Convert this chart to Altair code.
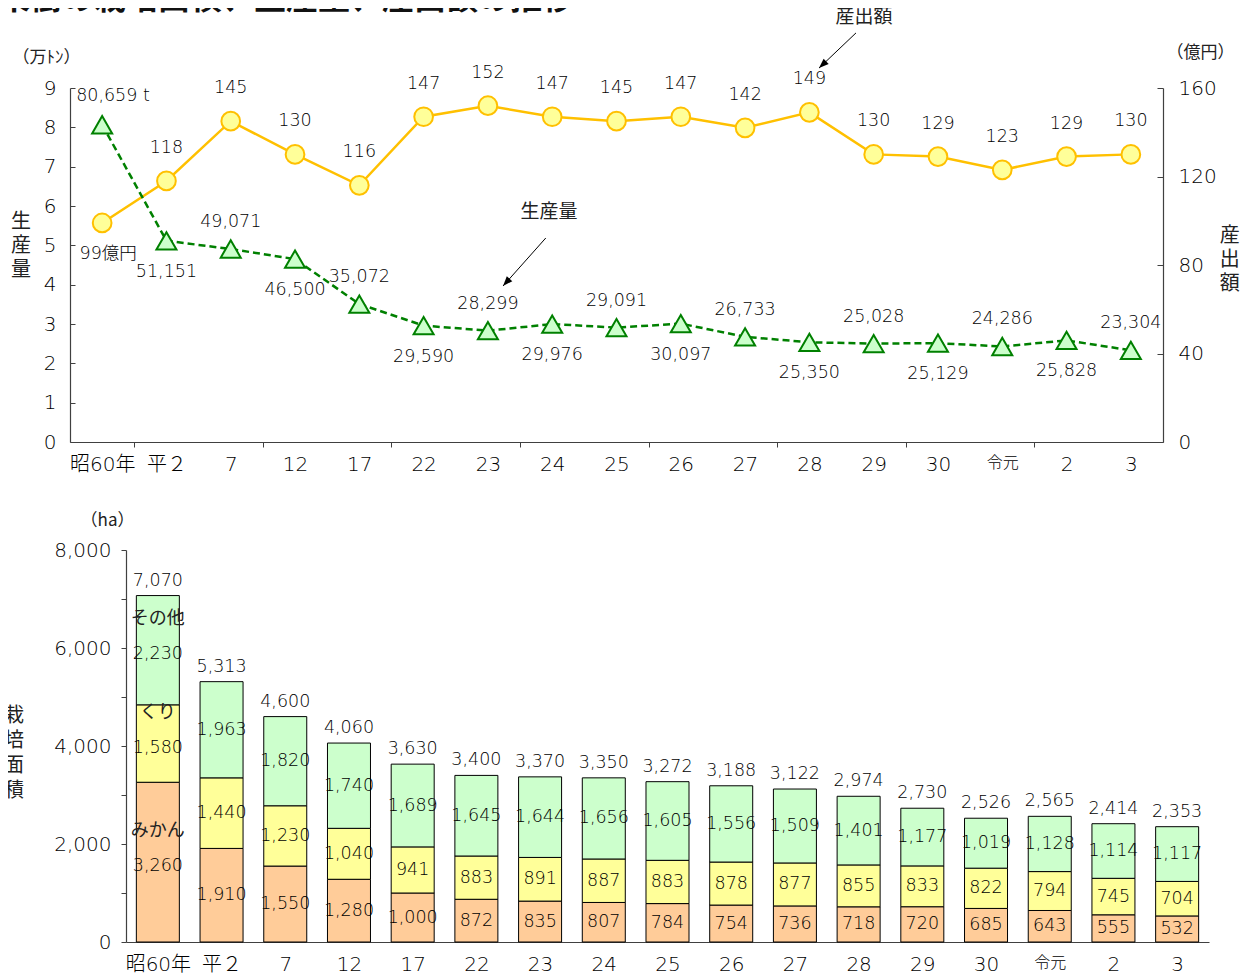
import json
import altair as alt
import pandas as pd

# ---------------- data ----------------
years = ["昭60年", "平２", "7", "12", "17", "22", "23", "24", "25", "26",
         "27", "28", "29", "30", "令元", "2", "3"]
production_t = [80659, 51151, 49071, 46500, 35072, 29590, 28299, 29976, 29091,
                30097, 26733, 25350, 25028, 25129, 24286, 25828, 23304]
output_oku = [99, 118, 145, 130, 116, 147, 152, 147, 145, 147, 142, 149,
              130, 129, 123, 129, 130]

crops = ["みかん", "くり", "その他"]
area_mikan = [3260, 1910, 1550, 1280, 1000, 872, 835, 807, 784, 754, 736, 718,
              720, 685, 643, 555, 532]
area_kuri = [1580, 1440, 1230, 1040, 941, 883, 891, 887, 883, 878, 877, 855,
             833, 822, 794, 745, 704]
area_other = [2230, 1963, 1820, 1740, 1689, 1645, 1644, 1656, 1605, 1556, 1509,
              1401, 1177, 1019, 1128, 1114, 1117]
area_total = [7070, 5313, 4600, 4060, 3630, 3400, 3370, 3350, 3272, 3188, 3122,
              2974, 2730, 2526, 2565, 2414, 2353]

title_text = "果樹の栽培面積、生産量、産出額の推移"

# ---------------- style ----------------
FONT = "DejaVu Sans, Noto Sans CJK JP"
CJK = "Noto Sans CJK JP"
TEXT = "#222222"
NUM = "#000000"
AXIS = "#404040"
LW = 300  # light weight for numbers (falls back to regular if unavailable)
crop_colors = ["#FFCC99", "#FFFF99", "#CCFFCC"]

n = len(years)
idx = list(range(n))
line_df = pd.DataFrame({
    "i": idx,
    "prod_t": production_t,
    "prod": [v / 10000 for v in production_t],
    "out": output_oku,
})

years_js = json.dumps(years, ensure_ascii=False)
label_expr = f"datum.value % 1 == 0 ? {years_js}[datum.value] : ''"
x_label_size = {"condition": {"test": "datum.value == 14", "value": 16}, "value": 20}

# ---------------- top chart (line, dual axis) ----------------
x_top_scale = alt.Scale(domain=[-0.5, n - 0.5], nice=False, zero=False)
top_tick_values = sorted(idx + [k + 0.5 for k in range(0, n - 2, 2)])
x_top_axis = alt.Axis(values=top_tick_values, labelExpr=label_expr, title=None,
                      ticks=True, tickSize=5,
                      tickOpacity={"condition": {"test": "datum.value % 1 == 0", "value": 0},
                                   "value": 1},
                      labelPadding=7, labelFontSize=x_label_size,
                      labelFlush=False, labelOverlap=False, grid=False)


def xt(field="i"):
    return alt.X(f"{field}:Q", scale=x_top_scale, axis=x_top_axis)


y_out_scale = alt.Scale(domain=[0, 160], nice=False)
y_out_axis = alt.Axis(orient="right", values=[0, 40, 80, 120, 160], title="（億円）",
                      titleAngle=0, titleX=37, titleY=-36, titleAlign="center",
                      titleBaseline="middle", titleFontSize=17, titleFontWeight="normal",
                      labelFontSize=20, labelPadding=15, ticks=False, tickSize=0,
                      grid=False, labelOverlap=False)


def yo(field="out"):
    return alt.Y(f"{field}:Q", scale=y_out_scale, axis=y_out_axis)


y_prod_scale = alt.Scale(domain=[0, 9], nice=False)
y_prod_axis = alt.Axis(orient="left", values=list(range(10)), title="（万ﾄﾝ）",
                       titleAngle=0, titleX=-24, titleY=-31, titleAlign="center",
                       titleBaseline="middle", titleFontSize=17, titleFontWeight="normal",
                       labelFontSize=20, labelPadding=14, ticks=False, tickSize=0,
                       grid=False, labelOverlap=False)


def yp(field="prod"):
    return alt.Y(f"{field}:Q", scale=y_prod_scale, axis=y_prod_axis)


base_line = alt.Chart(line_df)

out_line = base_line.mark_line(color="#FFC000", strokeWidth=2.5).encode(x=xt(), y=yo())
out_pts = base_line.mark_point(shape="circle", filled=True, fill="#FFFF99",
                               stroke="#FFC000", strokeWidth=2, size=350,
                               opacity=1).encode(x=xt(), y=yo())
out_lab = base_line.transform_filter("datum.i > 0").mark_text(
    font=FONT, fontSize=17.5, fontWeight=LW, baseline="middle", dy=-33, color=NUM
).encode(x=xt(), y=yo(), text=alt.Text("out:Q"))
out_lab0 = base_line.transform_filter("datum.i == 0").transform_calculate(
    lab="datum.out + '億円'"
).mark_text(font=FONT, fontSize=17.5, fontWeight=LW, baseline="middle", dy=31, dx=6,
            color=NUM).encode(x=xt(), y=yo(), text="lab:N")

# annotations (positions in data units of the top chart)
main_title = alt.Chart(pd.DataFrame({"i": [-1.62], "out": [195.7], "label": [title_text]})
                       ).mark_text(font=CJK, fontSize=32, fontWeight="bold", align="left",
                                   baseline="alphabetic", color="#111111"
                                   ).encode(x=xt(), y=yo(), text="label:N")
side_titles = alt.Chart(pd.DataFrame({"i": [-1.262, 17.54], "out": [99.4, 93.1],
                                      "label": ["生\n産\n量", "産\n出\n額"]})
                        ).mark_text(font=CJK, fontSize=20, lineBreak="\n", lineHeight=24,
                                    baseline="middle", align="center", color=TEXT
                                    ).encode(x=xt(), y=yo(), text="label:N")
ann_text = alt.Chart(pd.DataFrame({"i": [11.85, 6.95], "out": [192.1, 104.0],
                                   "label": ["産出額", "生産量"]})
                     ).mark_text(font=CJK, fontSize=19, baseline="middle", color=TEXT
                                 ).encode(x=xt(), y=yo(), text="label:N")
arrow_df = pd.DataFrame({"i": [11.725, 6.90], "out": [184.9, 92.2],
                         "i2": [11.15, 6.235], "out2": [169.0, 70.5],
                         "angle": [226.6, 221.8]})
ann_rule = alt.Chart(arrow_df).mark_rule(color="#000000", strokeWidth=1).encode(
    x=xt(), y=yo(), x2=alt.X2("i2:Q"), y2=alt.Y2("out2:Q"))
ann_head = alt.Chart(arrow_df).mark_point(shape="M0,0L-0.6,1.6L0.6,1.6Z", filled=True,
                                          color="#000000", size=150, opacity=1).encode(
    x=xt("i2"), y=yo("out2"), angle=alt.Angle("angle:Q", scale=None))

out_layer = alt.layer(out_line, out_pts, out_lab, out_lab0, main_title, side_titles,
                      ann_text, ann_rule, ann_head)

prod_line = base_line.mark_line(color="#008000", strokeWidth=2.5,
                                strokeDash=[7, 4]).encode(x=xt(), y=yp())
prod_pts = base_line.mark_point(shape="triangle-up", filled=True, fill="#CCFFCC",
                                stroke="#008000", strokeWidth=2, size=400,
                                opacity=1).encode(x=xt(), y=yp())
prod_text = base_line.transform_calculate(
    lab="datum.i == 0 ? format(datum.prod_t, ',') + ' t' : format(datum.prod_t, ',')")
prod_up = prod_text.transform_filter("datum.i > 0 && datum.i % 2 == 0").mark_text(
    font=FONT, fontSize=17.5, fontWeight=LW, baseline="middle", dy=-27, color=NUM
).encode(x=xt(), y=yp(), text="lab:N")
prod_down = prod_text.transform_filter("datum.i % 2 == 1").mark_text(
    font=FONT, fontSize=17.5, fontWeight=LW, baseline="middle", dy=31, color=NUM
).encode(x=xt(), y=yp(), text="lab:N")
prod_first = prod_text.transform_filter("datum.i == 0").mark_text(
    font=FONT, fontSize=17.5, fontWeight=LW, baseline="middle", align="left",
    dx=-26, dy=-29, color=NUM
).encode(x=xt(), y=yp(), text="lab:N")

prod_layer = alt.layer(prod_line, prod_pts, prod_up, prod_down, prod_first)

# inward tick marks of both value axes (extra axes, no labels / no domain line)
prod_ticks = base_line.mark_point(opacity=0).encode(
    x=xt(),
    y=alt.Y("prod:Q", scale=y_prod_scale,
            axis=alt.Axis(orient="left", offset=-5, domain=False, labels=False,
                          ticks=True, tickSize=5, values=list(range(10)),
                          title=None, grid=False)))
out_ticks = base_line.mark_point(opacity=0).encode(
    x=xt(),
    y=alt.Y("out:Q", scale=y_out_scale,
            axis=alt.Axis(orient="right", offset=-6, domain=False, labels=False,
                          ticks=True, tickSize=6, values=[0, 40, 80, 120, 160],
                          title=None, grid=False)))

top = alt.layer(out_layer, prod_layer, prod_ticks, out_ticks).resolve_scale(
    y="independent").properties(width=1093, height=354)

# ---------------- bottom chart (stacked bars) ----------------
bar_rows = []
for k, (crop, vals) in enumerate(zip(crops, [area_mikan, area_kuri, area_other])):
    for i, v in enumerate(vals):
        bar_rows.append({"i": i, "crop": crop, "order": k, "area": v})
bar_df = pd.DataFrame(bar_rows)
tot_df = pd.DataFrame({"i": idx, "total": area_total})

x_bot_scale = alt.Scale(domain=[-0.5, n - 0.5], range=[56, 1139], nice=False, zero=False)
x_bot_axis = alt.Axis(values=idx, labelExpr=label_expr, title=None, ticks=False,
                      tickSize=0, labelPadding=12, labelFontSize=x_label_size,
                      labelFlush=False, labelOverlap=False, grid=False)


def xb(field="i"):
    return alt.X(f"{field}:Q", scale=x_bot_scale, axis=x_bot_axis)


y_bot_scale = alt.Scale(domain=[0, 8000], nice=False)
y_bot_axis = alt.Axis(values=list(range(0, 8001, 1000)),
                      labelExpr="datum.value % 2000 == 0 ? format(datum.value, ',') : ''",
                      offset=-56, ticks=True, tickSize=5, labelPadding=10,
                      title="（ha）", titleAngle=0, titleX=-19, titleY=-30,
                      titleAlign="center", titleBaseline="middle", titleFontSize=17,
                      titleFontWeight="normal", labelFontSize=20, grid=False,
                      labelOverlap=False)


def yb(field):
    return alt.Y(f"{field}:Q", scale=y_bot_scale, axis=y_bot_axis)


stacked = alt.Chart(bar_df).transform_stack(
    stack="area", groupby=["i"], as_=["y0", "y1"],
    sort=[alt.SortField(field="order", order="ascending")]
).transform_calculate(xl="datum.i - 0.3375", xr="datum.i + 0.3375",
                      ymid="(datum.y0 + datum.y1) / 2")

bars = stacked.mark_bar(stroke="#000000", strokeWidth=1).encode(
    x=xb("xl"), x2=alt.X2("xr:Q"), y=yb("y0"), y2=alt.Y2("y1:Q"),
    fill=alt.Fill("crop:N", scale=alt.Scale(domain=crops, range=crop_colors), legend=None))
seg_lab = stacked.transform_filter("datum.i > 0").mark_text(
    font=FONT, fontSize=17.5, fontWeight=LW, baseline="middle", color=NUM
).encode(x=xb("i"), y=yb("ymid"), text=alt.Text("area:Q", format=","))
seg_lab0 = stacked.transform_filter("datum.i == 0").mark_text(
    font=FONT, fontSize=17.5, fontWeight=LW, baseline="middle", dy=4, color=NUM
).encode(x=xb("i"), y=yb("ymid"), text=alt.Text("area:Q", format=","))
name_lab0 = stacked.transform_filter("datum.i == 0").mark_text(
    font=CJK, fontSize=18, baseline="middle", dy=-31, color=TEXT
).encode(x=xb("i"), y=yb("ymid"), text="crop:N")
tot_lab = alt.Chart(tot_df).mark_text(font=FONT, fontSize=17.5, fontWeight=LW,
                                      baseline="middle", dy=-15, color=NUM).encode(
    x=xb("i"), y=yb("total"), text=alt.Text("total:Q", format=","))
bot_title = alt.Chart(pd.DataFrame({"i": [-2.258], "ymid": [4612],
                                    "label": ["栽\n培\n面\n積"]})).mark_text(
    font=CJK, fontSize=20, lineBreak="\n", lineHeight=25, baseline="middle",
    align="center", color=TEXT).encode(x=xb("i"), y=yb("ymid"), text="label:N")

bottom = alt.layer(bars, seg_lab, seg_lab0, name_lab0, tot_lab, bot_title).properties(
    width=1139, height=392)

chart = alt.vconcat(top, bottom, spacing=37).properties(
    padding={"left": -11, "top": -25, "right": 0, "bottom": 5}
).configure_view(strokeWidth=0).configure_axis(
    labelFont=FONT, titleFont=CJK, labelColor=NUM, titleColor=TEXT,
    labelFontWeight=LW,
    domainColor=AXIS, tickColor=AXIS, domainWidth=1.2
).configure_text(font=FONT, color=TEXT)

chart.save("out.html", embed_options={"renderer": "svg", "actions": False})
